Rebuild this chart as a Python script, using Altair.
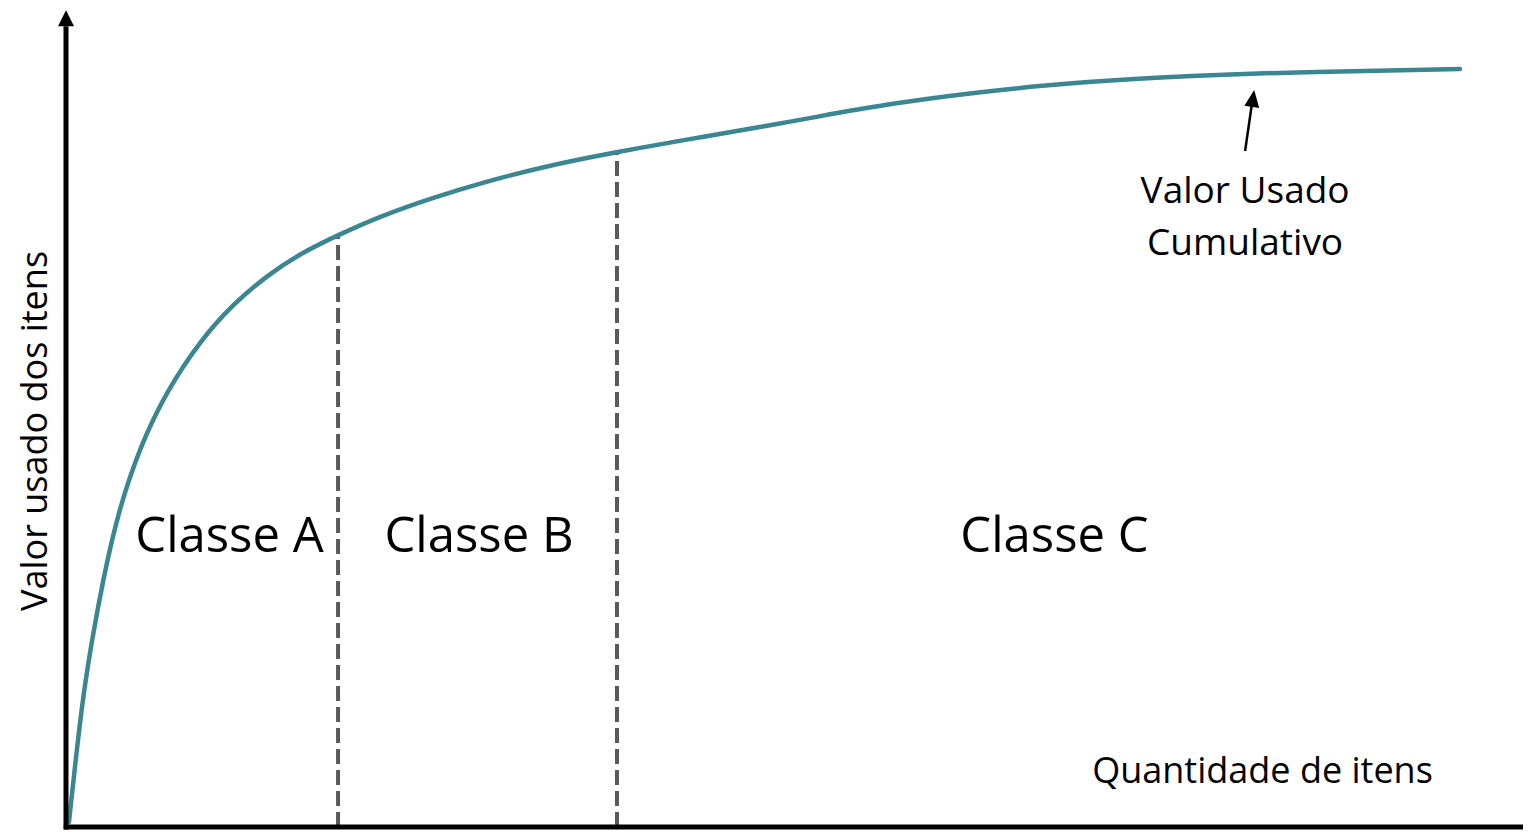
import altair as alt
import pandas as pd

# Curve: cumulative used value vs quantity of items (both in % of the axis)
qty = [0.2, 0.75, 1.2, 1.8, 2.55, 3.5, 5.05, 6.89, 9.15, 11.4, 13.72, 16.0,
       18.57, 21.5, 24.98, 28.46, 32.63, 37.61, 42.39, 47.65, 51.13, 56.31,
       61.57, 66.76, 72.49, 80.82, 95.15]
cum = [0.61, 9.67, 16.4, 23.2, 30.4, 38.2, 46.6, 53.4, 59.5, 64.0, 67.5,
       70.2, 72.46, 74.8, 77.0, 78.9, 80.85, 82.62, 84.15, 85.75, 86.9, 88.55,
       89.8, 90.78, 91.55, 92.3, 92.78]

# Class boundaries
bound_x = [18.57, 37.61]
bound_top = [72.46, 82.62]

# Class labels
class_names = ["Classe A", "Classe B", "Classe C"]
class_x = [11.16, 28.19, 67.47]
class_y = [33.66, 33.66, 33.66]

# Annotation
annot_lines = ["Valor Usado", "Cumulativo"]
annot_x = [80.48, 80.48]
annot_y = [76.38, 70.01]
arrow_from = (80.48, 82.74)
arrow_to = (80.98, 88.9)
arrow_head = (81.02, 89.17)

# Axis titles
x_title = "Quantidade de itens"
x_title_pos = (81.67, 5.39)
y_title = "Valor usado dos itens"
y_title_pos = (-1.3, 48.47)

# Axis lines
y_axis_top = 98.0
y_head = 99.0
x_axis_end = 99.45
x_head = 100.14

FONT = "Open Sans"
TEAL = "#3A8691"

xs = alt.Scale(domain=[0, 99.45], nice=False, zero=False)
ys = alt.Scale(domain=[0, 100], nice=False, zero=False)


def X(f="x"):
    return alt.X(f"{f}:Q", scale=xs, axis=None)


def Y(f="y"):
    return alt.Y(f"{f}:Q", scale=ys, axis=None)


curve_df = pd.DataFrame({"x": qty, "y": cum})
curve = alt.Chart(curve_df).mark_line(
    color=TEAL, strokeWidth=4.5, interpolate="basis", strokeCap="round"
).encode(x=X(), y=Y())

bound_df = pd.DataFrame({"x": bound_x, "y": [0, 0], "y2": bound_top})
bounds = alt.Chart(bound_df).mark_rule(
    color="#595959", strokeWidth=4, strokeDash=[15, 6]
).encode(x=X(), y=Y(), y2="y2:Q")

yaxis_df = pd.DataFrame({"x": [0], "y": [-0.3], "y2": [y_axis_top]})
yaxis = alt.Chart(yaxis_df).mark_rule(color="black", strokeWidth=5).encode(
    x=X(), y=Y(), y2="y2:Q")

xaxis_df = pd.DataFrame({"x": [-0.15], "x2": [x_axis_end], "y": [0]})
xaxis = alt.Chart(xaxis_df).mark_rule(color="black", strokeWidth=5).encode(
    x=X(), x2="x2:Q", y=Y())

yhead = alt.Chart(pd.DataFrame({"x": [0], "y": [y_head]})).mark_point(
    shape="M-1,1L0,-1L1,1Z", filled=True, color="black", size=256, opacity=1
).encode(x=X(), y=Y())

xhead = alt.Chart(pd.DataFrame({"x": [x_head], "y": [0]})).mark_point(
    shape="M-1,-1L1,0L-1,1Z", filled=True, color="black", size=256, opacity=1
).encode(x=X(), y=Y())

arrow_df = pd.DataFrame({"x": [arrow_from[0]], "y": [arrow_from[1]],
                         "x2": [arrow_to[0]], "y2": [arrow_to[1]]})
arrow_line = alt.Chart(arrow_df).mark_rule(color="black", strokeWidth=2.5).encode(
    x=X(), y=Y(), x2="x2:Q", y2="y2:Q")
arrow_tip = alt.Chart(pd.DataFrame({"x": [arrow_head[0]], "y": [arrow_head[1]]})).mark_point(
    shape="M-0.88,1L0,-1L0.88,1Z", filled=True, color="black", size=289, opacity=1, angle=8
).encode(x=X(), y=Y())

class_df = pd.DataFrame({"x": class_x, "y": class_y, "t": class_names})
class_text = alt.Chart(class_df).mark_text(
    font=FONT, fontSize=49, align="center", baseline="alphabetic", color="black"
).encode(x=X(), y=Y(), text="t:N")

annot_df = pd.DataFrame({"x": annot_x, "y": annot_y, "t": annot_lines})
annot_text = alt.Chart(annot_df).mark_text(
    font=FONT, fontSize=37, align="center", baseline="alphabetic", color="black"
).encode(x=X(), y=Y(), text="t:N")

xt = alt.Chart(pd.DataFrame({"x": [x_title_pos[0]], "y": [x_title_pos[1]], "t": [x_title]})).mark_text(
    font=FONT, fontSize=36, align="center", baseline="alphabetic", color="black"
).encode(x=X(), y=Y(), text="t:N")

yt = alt.Chart(pd.DataFrame({"x": [y_title_pos[0]], "y": [y_title_pos[1]], "t": [y_title]})).mark_text(
    font=FONT, fontSize=36, align="center", baseline="alphabetic", color="black", angle=270
).encode(x=X(), y=Y(), text="t:N")

chart = alt.layer(
    bounds, curve, yaxis, xaxis, yhead, xhead, arrow_line, arrow_tip,
    class_text, annot_text, xt, yt
).properties(
    width=1457, height=817,
    autosize=alt.AutoSizeParams(type="none"),
    padding={"left": 58, "top": 2, "right": 0, "bottom": 5},
    background="white",
).configure_view(stroke=None)

chart.save("out.html", embed_options={"renderer": "svg", "actions": False})
